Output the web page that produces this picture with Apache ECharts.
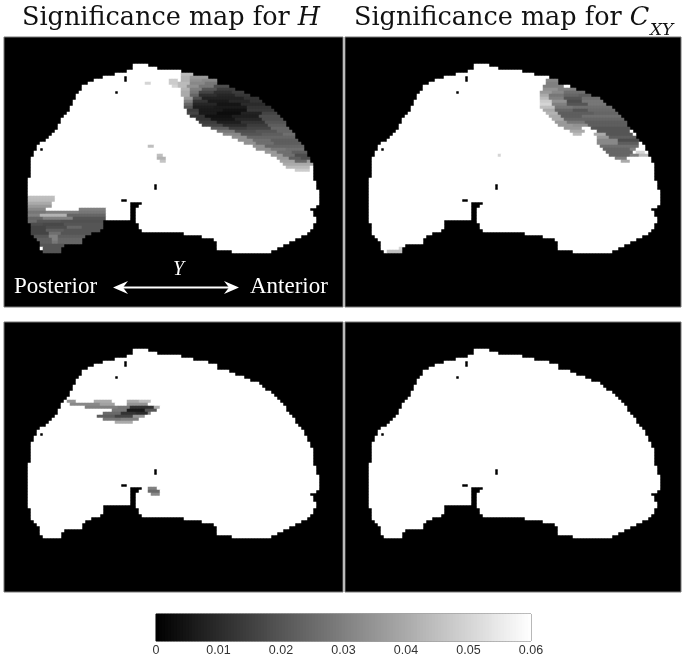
<!DOCTYPE html>
<html><head><meta charset="utf-8">
<style>html,body{margin:0;padding:0;background:#fff}#c{width:682px;height:661px}</style>
<script src="https://cdn.jsdelivr.net/npm/echarts@6/dist/echarts.min.js"></script></head>
<body><div id="c"></div>
<script>
// ---- data: voxel grid, values are significance levels (0..0.06, white = not significant) ----
const rowCount = 90, firstBrainRow = 9, notSignificant = 0.06;
const brainLeft = [43,43,41,37,33,30,28,26,26,25,24,24,23,23,22,22,21,20,19,19,18,18,17,16,15,14,12,11,11,10,10,9,9,9,9,9,9,9,8,8,8,8,8,8,8,8,8,8,8,8,8,8,8,9,9,9,9,10,11,12,12,12,13];
const brainRight = [47,50,58,62,67,70,70,74,76,79,81,84,85,86,88,89,90,91,92,93,93,94,95,96,96,97,98,99,99,100,100,101,101,102,102,102,102,102,102,103,103,103,104,104,104,104,104,103,101,102,102,103,103,102,102,101,100,98,96,94,92,90,88];
const brainGaps = [[55,42,45],[56,42,44],[57,42,43],[58,42,43],[59,42,43],[60,42,43],[61,33,43],[62,33,44],[63,33,44],[64,32,45],[65,29,59],[66,27,65],[67,26,69],[68,26,70],[69,20,70],[70,19,70],[71,19,75],
  [13,40,40],[14,40,40],[18,37,37],[37,12,12],[54,39,40],[49,50,50],[50,50,50]];
// [row, fromCol, toCol, p-value]
const sigHTop = [
 [12,59,62,.044],[13,59,61,.042],[13,62,67,.036],[14,59,61,.042],[14,62,65,.034],[14,66,70,.032],
 [15,58,61,.044],[15,62,66,.032],[15,67,70,.028],[16,58,60,.044],[16,61,64,.034],[16,65,69,.028],[16,70,74,.018],
 [17,59,61,.042],[17,62,65,.03],[17,66,70,.02],[17,71,76,.014],[18,59,61,.04],[18,62,64,.028],[18,65,69,.016],[18,70,75,.011],[18,76,79,.014],
 [19,59,61,.04],[19,62,64,.024],[19,65,70,.011],[19,71,76,.009],[19,77,81,.013],[20,60,62,.036],[20,63,65,.018],[20,66,72,.008],[20,73,79,.008],[20,80,84,.012],
 [21,60,62,.03],[21,63,67,.012],[21,68,74,.006],[21,75,81,.009],[21,82,85,.012],[22,60,62,.024],[22,63,70,.009],[22,71,78,.005],[22,79,86,.01],
 [23,60,62,.02],[23,63,69,.007],[23,70,80,.006],[23,81,88,.012],[24,61,64,.014],[24,65,72,.006],[24,73,80,.004],[24,81,89,.013],
 [25,61,64,.016],[25,65,70,.006],[25,71,78,.003],[25,79,85,.008],[25,86,90,.016],[26,62,66,.012],[26,67,75,.004],[26,76,84,.007],[26,85,91,.018],
 [27,64,68,.012],[27,69,76,.005],[27,77,85,.009],[27,86,92,.018],[28,65,70,.014],[28,71,78,.007],[28,79,86,.012],[28,87,93,.02],
 [29,66,72,.016],[29,73,80,.01],[29,81,87,.014],[29,88,93,.022],[30,69,74,.022],[30,75,80,.014],[30,81,88,.016],[30,89,94,.024],
 [31,71,76,.028],[31,77,83,.018],[31,84,90,.02],[31,91,95,.024],[32,73,78,.032],[32,79,85,.02],[32,86,92,.022],[32,93,96,.026],
 [33,76,80,.034],[33,81,86,.024],[33,87,92,.024],[33,93,96,.024],[34,78,82,.034],[34,83,88,.026],[34,89,97,.022],[35,80,83,.034],[35,84,89,.026],[35,90,98,.022],
 [36,83,86,.034],[36,87,91,.024],[36,92,99,.024],[37,84,88,.034],[37,89,93,.028],[37,94,99,.026],[38,87,90,.036],[38,91,95,.026],[38,96,100,.022],
 [39,89,92,.036],[39,93,96,.026],[39,97,100,.018],[40,91,94,.036],[40,95,98,.022],[40,99,101,.018],[41,92,96,.038],[41,97,100,.024],[41,101,101,.036],
 [42,93,98,.04],[42,99,102,.04],[43,94,101,.044],[44,97,101,.048],
 [14,55,57,.048],[15,47,48,.05],[15,55,57,.048],[16,56,57,.05],[36,48,49,.045],[39,51,52,.045],[40,51,53,.042],[41,52,53,.046]];
const sigHBottom = [
 [53,8,16,.045],[54,8,16,.044],[55,8,15,.04],[56,8,15,.036],[57,8,13,.032],[57,25,33,.03],[58,8,13,.028],[58,14,24,.03],[58,25,33,.028],
 [59,8,11,.03],[59,12,20,.042],[59,21,33,.024],[60,8,12,.024],[60,13,22,.03],[60,23,33,.02],[61,8,10,.025],[61,11,18,.02],[61,19,32,.019],
 [62,9,12,.018],[62,13,19,.017],[62,20,32,.02],[63,9,13,.016],[63,14,20,.018],[63,21,25,.024],[63,26,32,.02],[64,9,13,.016],[64,14,19,.022],[64,20,25,.02],[64,26,31,.02],
 [65,9,14,.016],[65,15,18,.026],[65,19,28,.02],[66,10,14,.02],[66,15,17,.03],[66,18,26,.022],[67,11,15,.022],[67,16,17,.03],[67,18,25,.024],
 [68,12,15,.022],[68,16,17,.028],[68,18,25,.024],[69,12,19,.02],[70,13,18,.02],[71,13,18,.02]];
const sigCxyTop = [
 [14,67,70,.032],[15,67,70,.03],[16,66,72,.03],[17,66,70,.034],[17,71,76,.03],[18,65,68,.036],[18,69,72,.032],[18,73,79,.026],
 [19,65,67,.04],[19,68,72,.028],[19,73,77,.024],[19,78,81,.022],[20,65,67,.044],[20,68,72,.03],[20,73,78,.02],[20,79,84,.026],
 [21,65,68,.048],[21,69,73,.034],[21,74,78,.018],[21,79,85,.028],[22,65,68,.05],[22,69,73,.03],[22,74,80,.02],[22,81,86,.028],
 [23,65,69,.045],[23,70,75,.028],[23,76,88,.026],[24,66,69,.04],[24,70,75,.024],[24,76,80,.02],[24,81,89,.025],
 [25,67,70,.042],[25,71,76,.022],[25,77,82,.022],[25,83,90,.024],[26,68,71,.04],[26,72,78,.022],[26,79,91,.026],[27,69,72,.04],[27,73,78,.024],[27,79,92,.024],
 [28,70,73,.036],[28,74,79,.028],[28,80,93,.022],[29,71,75,.036],[29,76,80,.034],[29,81,93,.022],[30,73,78,.036],[30,82,94,.02],[31,75,79,.04],[31,84,94,.02],
 [32,76,78,.044],[32,83,86,.04],[32,87,95,.02],[33,84,87,.036],[33,88,96,.022],[34,84,90,.032],[34,91,97,.018],[35,84,90,.032],[35,91,97,.022],
 [36,85,92,.026],[36,93,97,.026],[37,86,94,.024],[37,95,96,.03],[38,87,95,.024],[38,97,99,.05],[39,88,94,.024],[39,95,97,.03],[39,98,100,.044],[40,90,93,.03],[41,92,94,.04],
 [39,51,51,.05],[70,18,19,.05],[71,14,18,.045]];
const sigHLower = [
 [26,21,23,.035],[26,30,35,.04],[26,41,44,.04],[26,45,48,.045],[27,22,31,.032],[27,32,36,.038],[27,41,47,.035],
 [28,27,37,.03],[28,38,41,.028],[28,42,49,.012],[28,50,51,.04],[29,36,40,.028],[29,41,46,.006],[29,47,50,.02],
 [30,33,38,.025],[30,39,43,.012],[30,44,47,.01],[30,48,48,.03],[31,31,36,.022],[31,37,42,.016],[31,43,46,.035],
 [32,33,38,.028],[32,39,44,.03],[33,37,42,.04],[55,48,50,.03],[56,48,51,.025],[57,49,51,.032]];
const sigCxyLower = [];
const colorbarSteps = 125;

function panelCells(overlay){
  const cells = new Map();
  brainLeft.forEach((l,i)=>{const r=firstBrainRow+i; for(let c=l;c<=brainRight[i];c++) cells.set(r*1000+c,notSignificant);});
  brainGaps.forEach(([r,a,b])=>{for(let c=a;c<=b;c++) cells.delete(r*1000+c);});
  overlay.forEach(([r,a,b,v])=>{for(let c=a;c<=b;c++) if(cells.has(r*1000+c)) cells.set(r*1000+c,v);});
  return [...cells].map(([k,v])=>[k%1000,Math.floor(k/1000),v]);
}
const idx = n=>Array.from({length:n},(_,i)=>i);
const panels = [
  {left:4,  top:37, cols:113, data:panelCells(sigHTop.concat(sigHBottom))},
  {left:345,top:37, cols:112, data:panelCells(sigCxyTop)},
  {left:4,  top:322,cols:113, data:panelCells(sigHLower)},
  {left:345,top:322,cols:112, data:panelCells(sigCxyLower)}
];
const grid=[],xAxis=[],yAxis=[],series=[];
panels.forEach((p,i)=>{
  grid.push({left:p.left,top:p.top,width:p.cols*3,height:rowCount*3,show:true,backgroundColor:'#000',borderColor:'#777',borderWidth:1});
  xAxis.push({type:'category',gridIndex:i,data:idx(p.cols),show:false});
  yAxis.push({type:'category',gridIndex:i,data:idx(rowCount),show:false,inverse:true});
  series.push({type:'heatmap',xAxisIndex:i,yAxisIndex:i,data:p.data,progressive:0,silent:true,emphasis:{disabled:true}});
});
// colour bar
grid.push({left:156,top:614,width:375,height:27,show:true,borderColor:'#444',borderWidth:1});
xAxis.push({type:'category',gridIndex:4,data:idx(colorbarSteps),show:false});
yAxis.push({type:'category',gridIndex:4,data:[0],show:false});
series.push({type:'heatmap',xAxisIndex:4,yAxisIndex:4,progressive:0,silent:true,emphasis:{disabled:true},
  data:idx(colorbarSteps).map(i=>[i,0,(i+.5)/colorbarSteps*.06])});
const barAxis = {type:'value',gridIndex:4,min:0,max:.06,interval:.01,splitLine:{show:false},axisLine:{show:false},
  axisTick:{inside:true,length:3,lineStyle:{color:'#222'}}};
xAxis.push({...barAxis,position:'bottom',axisLabel:{color:'#333',fontSize:12.5,fontFamily:'Liberation Sans',margin:3,
  showMinLabel:true,showMaxLabel:true,formatter:v=>String(+v.toFixed(2))}});
xAxis.push({...barAxis,position:'top',axisLabel:{show:false}});

const serif='Liberation Serif', titleFont='DejaVu Serif', titleSize=25.5;
const rich={a:{fontFamily:titleFont,fontWeight:'normal',fontSize:titleSize,color:'#111'},i:{fontFamily:titleFont,fontWeight:'normal',fontSize:titleSize,fontStyle:'italic',color:'#111'}};
const title=[
 {text:'{a|Significance map for }{i|H}',left:17,top:0,textStyle:{rich}},
 {text:'{a|Significance map for }{i|C}',left:349,top:0,textStyle:{rich}},
 {text:'XY',left:645,top:17,textStyle:{fontFamily:titleFont,fontStyle:'italic',fontWeight:'normal',fontSize:17,color:'#111'}},
 {text:'Posterior',left:9,top:270,textStyle:{fontFamily:serif,fontWeight:'normal',fontSize:23,color:'#fff'}},
 {text:'Anterior',left:245,top:270,textStyle:{fontFamily:serif,fontWeight:'normal',fontSize:23,color:'#fff'}},
 {text:'Y',left:168,top:255,textStyle:{fontFamily:serif,fontStyle:'italic',fontWeight:'normal',fontSize:20,color:'#fff'}}
];
const arrow=[
 {type:'line',shape:{x1:118,y1:287.5,x2:234,y2:287.5},style:{stroke:'#fff',lineWidth:2},z:10},
 {type:'polygon',shape:{points:[[113,287.5],[128,281],[123,287.5],[128,294]]},style:{fill:'#fff'},z:10},
 {type:'polygon',shape:{points:[[239,287.5],[224,281],[229,287.5],[224,294]]},style:{fill:'#fff'},z:10}
];
const chart=echarts.init(document.getElementById('c'),null,{renderer:'canvas'});
chart.setOption({animation:false,backgroundColor:'#fff',title,grid,xAxis,yAxis,series,graphic:arrow,
  visualMap:{show:false,type:'continuous',min:0,max:.06,dimension:2,seriesIndex:[0,1,2,3,4],inRange:{color:['#000','#fff']}}});
</script></body></html>
